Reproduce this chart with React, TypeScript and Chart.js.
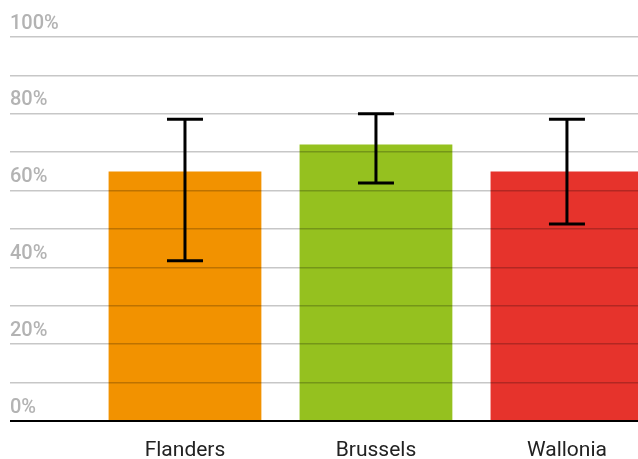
import React, { useEffect, useRef } from "react";
import { Chart, registerables } from "chart.js";

Chart.register(...registerables);

const categories = ["Flanders", "Brussels", "Wallonia"];
const values = [65, 72, 65];
const errLow = [41.7, 62, 51.3];
const errHigh = [78.6, 80, 78.6];
const barColors = ["#f29200", "#95c11f", "#e6332c"];
const yTicks = [0, 20, 40, 60, 80, 100];

const errorBarPlugin = {
  id: "errorBars",
  afterDraw(chart: any) {
    const meta = chart.getDatasetMeta(0);
    const yScale = chart.scales.y;
    const ctx = chart.ctx;
    ctx.save();
    ctx.strokeStyle = "#000";
    ctx.lineWidth = 3;
    meta.data.forEach((bar: any, i: number) => {
      const x = bar.x;
      const yHi = yScale.getPixelForValue(errHigh[i]);
      const yLo = yScale.getPixelForValue(errLow[i]);
      const half = 18;
      ctx.beginPath();
      ctx.moveTo(x, yHi);
      ctx.lineTo(x, yLo);
      ctx.moveTo(x - half, yHi);
      ctx.lineTo(x + half, yHi);
      ctx.moveTo(x - half, yLo);
      ctx.lineTo(x + half, yLo);
      ctx.stroke();
    });
    ctx.restore();
  },
};

export default function App() {
  const ref = useRef<HTMLCanvasElement>(null);
  useEffect(() => {
    if (!ref.current) return;
    const chart = new Chart(ref.current, {
      type: "bar",
      data: {
        datasets: [
          {
            data: values.map((v, i) => ({ x: i + 1, y: v })),
            backgroundColor: barColors,
            borderWidth: 0,
            barPercentage: 0.8,
            categoryPercentage: 1,
          },
        ],
      },
      options: {
        animation: false,
        responsive: true,
        maintainAspectRatio: false,
        layout: { padding: { left: 10, right: 0, top: 37, bottom: 0 } },
        plugins: { legend: { display: false }, tooltip: { enabled: false } },
        scales: {
          x: {
            type: "linear",
            min: 0.0838,
            max: 3.372,
            offset: false,
            grid: { display: false, drawTicks: false },
            border: { display: false },
            afterBuildTicks: (scale: any) => {
              scale.ticks = categories.map((_, i) => ({ value: i + 1 }));
            },
            afterFit: (scale: any) => {
              scale.height = 38;
            },
            ticks: {
              autoSkip: false,
              maxRotation: 0,
              padding: 17,
              color: "#222",
              font: { family: "Roboto", size: 21 },
              callback: (v: any) => categories[Math.round(Number(v)) - 1] ?? "",
            },
          },
          y: {
            min: 0,
            max: 100,
            border: { display: false },
            grid: {
              z: 1,
              drawTicks: false,
              color: (c: any) => (c.tick && c.tick.value === 0 ? "#000" : "rgba(0,0,0,0.22)"),
              lineWidth: (c: any) => (c.tick && c.tick.value === 0 ? 2 : 1.5),
            },
            ticks: {
              stepSize: 10,
              autoSkip: false,
              mirror: true,
              padding: 0,
              labelOffset: -13.5,
              color: "#b3b3b3",
              font: { family: "Roboto", size: 20, weight: "500" as any },
              callback: (v: any) => (yTicks.includes(Number(v)) ? v + "%" : ""),
            },
          },
        },
      },
      plugins: [errorBarPlugin],
    });
    return () => chart.destroy();
  }, []);
  return (
    <div style={{ position: "fixed", left: 0, top: 0, width: 638, height: 459 }}>
      <canvas ref={ref} />
    </div>
  );
}
